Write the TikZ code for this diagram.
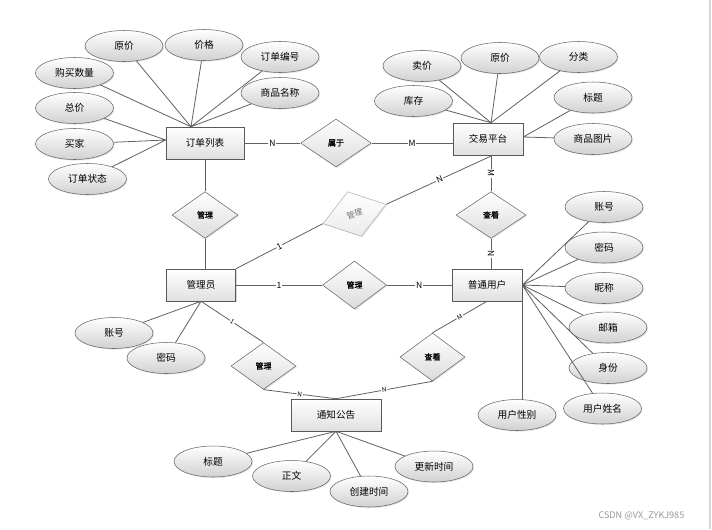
\documentclass[tikz,border=0pt]{standalone}
\usepackage{fontspec}
\newfontfamily\cjk{Noto Sans CJK SC}
\newfontfamily\cjkb[FakeBold=1.2]{Noto Sans CJK SC}
\usetikzlibrary{shapes.geometric,shadows}

\tikzset{
  entity/.style={rectangle,draw=black!65,minimum height=24pt,inner sep=0pt,
    top color=white,bottom color=black!12,
    drop shadow={shadow xshift=1pt,shadow yshift=-1pt,opacity=0.3},
    font=\cjk\fontsize{7.2}{8}\selectfont},
  attr/.style={ellipse,draw=black!60,minimum width=58.5pt,minimum height=23.25pt,inner sep=0pt,
    top color=white,bottom color=black!18,
    drop shadow={shadow xshift=0.8pt,shadow yshift=-0.8pt,opacity=0.2},
    font=\cjk\fontsize{7.3}{8}\selectfont},
  rel/.style={diamond,draw=black!60,inner sep=0pt,minimum width=49.5pt,minimum height=35pt,
    top color=white,bottom color=black!14,
    drop shadow={shadow xshift=0.8pt,shadow yshift=-0.8pt,opacity=0.2},
    font=\cjkb\fontsize{6}{7}\selectfont},
  conn/.style={black!62,line width=0.6pt},
  card/.style={fill=white,inner sep=0.6pt,text=black,font=\cjk\fontsize{6.4}{7}\selectfont},
  cardsm/.style={card,font=\cjk\fontsize{4.8}{5}\selectfont},
}

\begin{document}
\begin{tikzpicture}[x=0.75pt,y=-0.75pt]

% 背景
\fill[white] (0,0) rectangle (712,529);
\useasboundingbox (0,0) rectangle (712,529);
\draw[black!15!cyan!10!gray!35,line width=1.5pt] (710,0) -- (710,529);

% 实体
\node[entity,minimum width=58.5pt] (dd)  at (205,143) {订单列表};
\node[entity,minimum width=52.5pt] (jy)  at (488,139) {交易平台};
\node[entity,minimum width=52pt]   (gly) at (201,285) {管理员};
\node[entity,minimum width=52.5pt] (yh)  at (487,285) {普通用户};
\node[entity,minimum width=67.5pt] (tz)  at (336,415) {通知公告};

% 联系
\node[rel,minimum width=53pt,minimum height=36pt] (shuyu) at (336,143) {属于};
\node[rel] (gl1) at (205,215) {管理};
\node[rel,rotate=17,draw=black!30,top color=white,bottom color=black!8,
      text=black!55,font=\cjk\fontsize{6}{7}\selectfont] (gl2) at (354.5,214) {管理};
\node[rel,minimum width=52.5pt] (ck1) at (491,215) {查看};
\node[rel,minimum width=48pt,minimum height=36pt] (gl3) at (354.5,285) {管理};
\node[rel,minimum width=48.75pt] (gl4) at (263.5,366) {管理};
\node[rel,minimum width=48.75pt,minimum height=36pt] (ck2) at (432.5,357) {查看};

% 订单列表的属性
\node[attr] (a1) at (124,46)   {原价};
\node[attr] (a2) at (204,45)   {价格};
\node[attr] (a3) at (280,57)   {订单编号};
\node[attr] (a4) at (74.5,73)  {购买数量};
\node[attr] (a5) at (280,93)   {商品名称};
\node[attr] (a6) at (74.5,108) {总价};
\node[attr] (a7) at (74.5,144) {买家};
\node[attr] (a8) at (87.5,179) {订单状态};

% 交易平台的属性
\node[attr] (b1) at (422,66)    {卖价};
\node[attr] (b2) at (500,58)    {原价};
\node[attr] (b3) at (578.5,57)  {分类};
\node[attr] (b4) at (413.5,101) {库存};
\node[attr] (b5) at (593,97.5)  {标题};
\node[attr] (b6) at (593,139)   {商品图片};

% 管理员的属性
\node[attr] (c1) at (114,333) {账号};
\node[attr] (c2) at (166,358) {密码};

% 普通用户的属性
\node[attr] (d1) at (604,207)   {账号};
\node[attr] (d2) at (604,247.5) {密码};
\node[attr] (d3) at (604,288)   {昵称};
\node[attr] (d4) at (608,327.5) {邮箱};
\node[attr] (d5) at (608,368)   {身份};
\node[attr] (d6) at (602.5,408.5) {用户姓名};
\node[attr] (d7) at (517,415)   {用户性别};

% 通知公告的属性
\node[attr] (e1) at (213,461.5) {标题};
\node[attr] (e2) at (291.5,476) {正文};
\node[attr] (e3) at (369,491.5) {创建时间};
\node[attr] (e4) at (434,466.5) {更新时间};

% 汇合点
\coordinate (ddT) at ([xshift=-10.5pt]dd.north);
\coordinate (ddL) at ([yshift=2.25pt]dd.west);
\coordinate (jyT) at ([xshift=2.25pt]jy.north);
\coordinate (jyR) at ([yshift=1.5pt]jy.east);

% 属性连线
\draw[conn] (a1)--(ddT) (a2)--(ddT) (a3)--(ddT) (a4)--(ddT) (a5)--(ddT);
\draw[conn] (a6)--(ddL) (a7)--(ddL) (a8)--(ddL);
\draw[conn] (b1)--(jyT) (b2)--(jyT) (b3)--(jyT) (b4)--(jyT);
\draw[conn] (b5)--(jyR) (b6)--(jyR);
\draw[conn] (c1)--(gly.south) (c2)--(gly.south);
\draw[conn] (d1)--(yh.east) (d2)--(yh.east) (d3)--(yh.east)
            (d4)--(yh.east) (d5)--(yh.east) (d6)--(yh.east);
\draw[conn] (yh.south east)--([yshift=-0.6pt]yh.south east |- d7.north);
\draw[conn] (e1)--(tz.south) (e2)--(tz.south) (e3)--(tz.south) (e4)--(tz.south);

% 联系连线
\draw[conn] (dd.east) -- node[card] {N} (shuyu.west);
\draw[conn] (shuyu.east) -- node[card] {M} (shuyu.east -| jy.west);
\draw[conn] (dd.south) -- (gl1.north);
\draw[conn] (gl1.south) -- (gl1.south |- gly.north);
\draw[conn] (gly.north east) -- node[card,sloped] {1} (gl2.west);
\draw[conn] (gl2.east) -- node[card,sloped] {N} ([xshift=3.5pt]jy.south);
\draw[conn] (gly.east) -- node[card] {1} (gl3.west);
\draw[conn] (gl3.east) -- node[card] {N} (yh.west);
\draw[conn] (ck1.north |- jy.south) -- node[card,sloped] {M} (ck1.north);
\draw[conn] (ck1.south) -- node[card,sloped] {N} (ck1.south |- yh.north);
\draw[conn] (gly.south) -- node[cardsm,sloped] {1} (gl4.north);
\draw[conn] (gl4.south) -- node[cardsm,sloped] {N} (tz.north);
\draw[conn] (tz.north) -- node[cardsm,sloped] {N} (ck2.south);
\draw[conn] (ck2.north) -- node[cardsm,sloped] {M} (yh.south);

% 水印
\node[anchor=east,text=black!40,font=\cjk\fontsize{6.8}{8}\selectfont] (wm) at (689,516) {CSDN @VX\_ZYKJ985};

\end{tikzpicture}
\end{document}
